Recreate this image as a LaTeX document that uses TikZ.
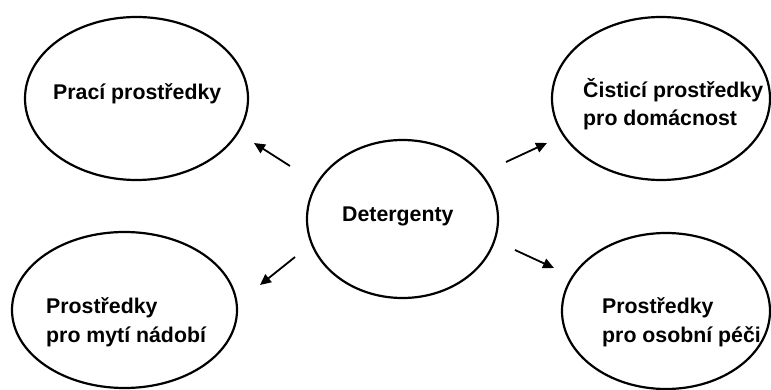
\documentclass[tikz,border=0pt]{standalone}
\usepackage{fontspec}
\setmainfont{Liberation Sans}
\usetikzlibrary{shapes.geometric,arrows.meta}
\begin{document}
\begin{tikzpicture}[x=1pt,y=-1pt,
  ell/.style={draw=black, line width=2.2pt, ellipse, inner sep=0pt},
  lbl/.style={anchor=base west, align=left, inner sep=0pt, font=\fontsize{21.3}{28.5}\selectfont\bfseries},
  arr/.style={line width=1.8pt, -{Triangle[length=11pt,width=10pt]}}]
\useasboundingbox (0,0) rectangle (771,390);
\fill[white] (0,0) rectangle (771,390);
% ellipses
\node[ell, minimum width=223pt, minimum height=163pt] (pl) at (136.5,98.5) {};
\node[ell, minimum width=218pt, minimum height=163pt] (ci) at (661,98.5) {};
\node[ell, minimum width=191pt, minimum height=158pt] (det) at (402.5,219) {};
\node[ell, minimum width=225pt, minimum height=156pt] (my) at (124.5,310) {};
\node[ell, minimum width=208pt, minimum height=156pt] (os) at (666,311) {};
% texts (base anchor = baseline of the last line)
\node[lbl] (tpl) at (53,100) {Prací prostředky};
\node[lbl] (tci) at (583,126) {Čisticí prostředky\\pro domácnost};
\node[lbl] (tdet) at (342,222) {Detergenty};
\node[lbl] (tmy) at (46,342) {Prostředky\\pro mytí nádobí};
\node[lbl] (tos) at (602,342) {Prostředky\\pro osobní péči};
% arrows
\coordinate (a1s) at (290,166); \coordinate (a1e) at (254,143);
\coordinate (a2s) at (506,162); \coordinate (a2e) at (547,143);
\coordinate (a3s) at (295,257); \coordinate (a3e) at (260,285);
\coordinate (a4s) at (515,250); \coordinate (a4e) at (554,268);
\draw[arr] (a1s) -- (a1e);
\draw[arr] (a2s) -- (a2e);
\draw[arr] (a3s) -- (a3e);
\draw[arr] (a4s) -- (a4e);
\end{tikzpicture}
\end{document}
